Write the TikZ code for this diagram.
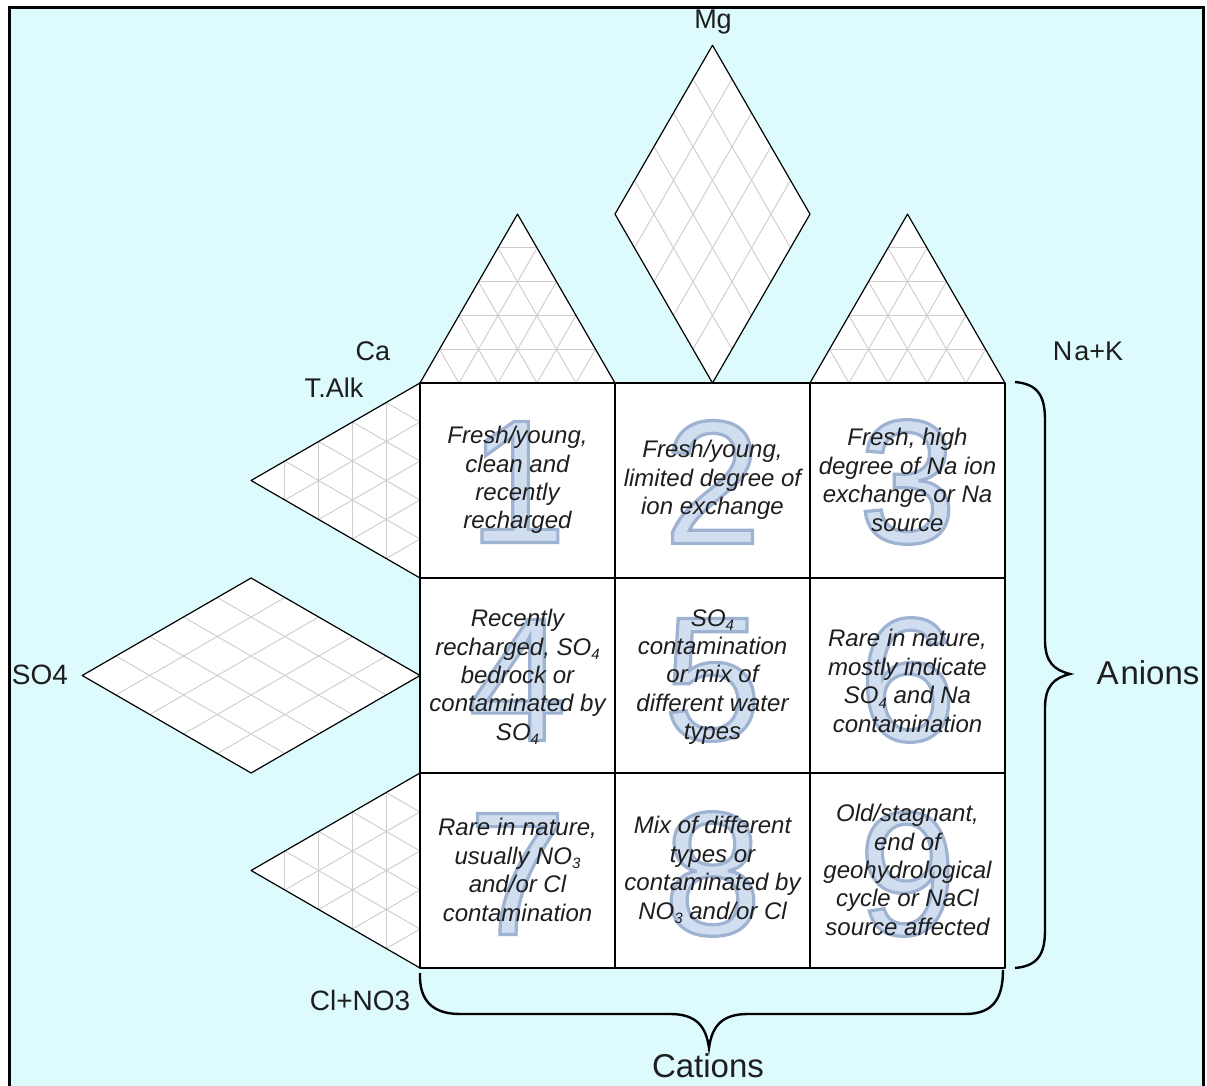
\documentclass[tikz,border=0pt]{standalone}
\usepackage{fontspec}
\setmainfont{Liberation Sans}
\usetikzlibrary{calc}
\definecolor{bgc}{RGB}{221,251,252}
\definecolor{gridc}{RGB}{205,205,205}
\definecolor{digc}{RGB}{208,222,240}
\definecolor{txtc}{RGB}{30,30,30}
\newcommand{\lowsub}[1]{\raisebox{-0.35ex}{\fontsize{7.5}{7.5}\selectfont #1}}
% outlined digit via PDF text render mode 2 (fill + stroke)
\newcommand{\outl}[1]{\special{pdf:literal direct 0.62 0.70 0.82 RG 1.6 w 2 Tr}#1\special{pdf:literal direct 0 Tr}}
\tikzset{
  celltext/.style={align=center, font=\fontsize{12}{14.2}\selectfont\itshape, text=txtc, inner sep=0pt},
  bigdigit/.style={font=\fontsize{88}{88}\selectfont, text=digc, inner sep=0pt},
  axislabel/.style={font=\fontsize{13.5}{15}\selectfont, text=txtc, inner sep=0pt},
  biglabel/.style={font=\fontsize{16.5}{18}\selectfont, text=txtc, inner sep=0pt},
  gridline/.style={draw=gridc, line width=0.45pt},
  outline/.style={draw=black, line width=0.6pt, line join=round},
  bracepath/.style={draw=black, line width=1.2pt},
}
\newcommand{\terntri}[3]{%
  \fill[white] (#1)--(#2)--(#3)--cycle;
  \foreach \i in {1,...,4}{%
    \draw[gridline] ($(#1)!\i/5!(#2)$) -- ($(#1)!\i/5!(#3)$);
    \draw[gridline] ($(#2)!\i/5!(#1)$) -- ($(#2)!\i/5!(#3)$);
    \draw[gridline] ($(#3)!\i/5!(#1)$) -- ($(#3)!\i/5!(#2)$);
  }
  \draw[outline] (#1)--(#2)--(#3)--cycle;
}
\newcommand{\rhombgrid}[4]{%
  \fill[white] (#1)--(#2)--(#3)--(#4)--cycle;
  \foreach \i in {1,...,4}{%
    \draw[gridline] ($(#1)!\i/5!(#2)$) -- ($(#4)!\i/5!(#3)$);
    \draw[gridline] ($(#1)!\i/5!(#4)$) -- ($(#2)!\i/5!(#3)$);
  }
  \draw[outline] (#1)--(#2)--(#3)--(#4)--cycle;
}
\begin{document}
\begin{tikzpicture}[x=0.5pt,y=-0.5pt]
\useasboundingbox (0,0) rectangle (1207,1086);
\clip (0,0) rectangle (1207,1086);
\fill[white] (0,0) rectangle (1207,1086);
\draw[line width=1.5pt, fill=bgc] (9,8) rectangle (1203,1110);

% coordinates
\coordinate (g00) at (420,383);
\coordinate (g10) at (615,383);
\coordinate (g20) at (810,383);
\coordinate (g30) at (1005,383);
\coordinate (g01) at (420,578);
\coordinate (g02) at (420,773);
\coordinate (g03) at (420,968);
\coordinate (g33) at (1005,968);

% top plots
\coordinate (caT) at (517.5,214.1);
\coordinate (naT) at (907.5,214.1);
\coordinate (mgL) at (615,214.1);
\coordinate (mgR) at (810,214.1);
\coordinate (mgT) at (712.5,45.3);
\coordinate (mgB) at (712.5,383);
\terntri{g00}{g10}{caT}
\terntri{g20}{g30}{naT}
\rhombgrid{mgB}{mgR}{mgT}{mgL}

% left plots
\coordinate (alkA) at (251.1,480.5);
\coordinate (clA) at (251.1,870.5);
\coordinate (soR) at (420,675.5);
\coordinate (soT) at (251.1,578);
\coordinate (soB) at (251.1,773);
\coordinate (soL) at (82.2,675.5);
\terntri{g00}{g01}{alkA}
\terntri{g02}{g03}{clA}
\rhombgrid{soR}{soT}{soL}{soB}

% central square
\fill[white] (g00) rectangle (g33);

% big digits
\node[bigdigit] (d1) at (517.5,482) {\outl{1}};
\node[bigdigit] (d2) at (712.5,482) {\outl{2}};
\node[bigdigit] (d3) at (907.5,482) {\outl{3}};
\node[bigdigit] (d4) at (517.5,680) {\outl{4}};
\node[bigdigit] (d5) at (712.5,680) {\outl{5}};
\node[bigdigit] (d6) at (907.5,680) {\outl{6}};
\node[bigdigit] (d7) at (517.5,874) {\outl{7}};
\node[bigdigit] (d8) at (712.5,874) {\outl{8}};
\node[bigdigit] (d9) at (907.5,874) {\outl{9}};

% grid lines
\draw[outline] (g00) rectangle (g33);
\draw[outline] (615,383) -- (615,968);
\draw[outline] (810,383) -- (810,968);
\draw[outline] (420,578) -- (1005,578);
\draw[outline] (420,773) -- (1005,773);

% cell texts
\node[celltext] (t1) at (517.5,480) {Fresh/young,\\clean and\\recently\\recharged};
\node[celltext] (t2) at (712.5,480) {Fresh/young,\\limited degree of\\ion exchange};
\node[celltext] (t3) at (907.5,480) {Fresh, high\\degree of Na ion\\exchange or Na\\source};
\node[celltext] (t4) at (517.5,677) {Recently\\recharged, SO\lowsub{4}\\bedrock or\\contaminated by\\SO\lowsub{4}};
\node[celltext] (t5) at (712.5,677) {SO\lowsub{4}\\contamination\\or mix of\\different water\\types};
\node[celltext] (t6) at (907.5,681) {Rare in nature,\\mostly indicate\\SO\lowsub{4} and Na\\contamination};
\node[celltext] (t7) at (517.5,870) {Rare in nature,\\usually NO\lowsub{3}\\and/or Cl\\contamination};
\node[celltext] (t8) at (712.5,870) {Mix of different\\types or\\contaminated by\\NO\lowsub{3} and/or Cl};
\node[celltext] (t9) at (907.5,870) {Old/stagnant,\\end of\\geohydrological\\cycle or NaCl\\source affected};

% axis labels
\node[axislabel] (lmg) at (713,22) {Mg};
\node[axislabel] (lca) at (373,351) {Ca};
\node[axislabel] (lalk) at (334,388) {T.Alk};
\node[axislabel] (lna) at (1088,351) {N\kern1pt a+K};
\node[axislabel, font=\fontsize{14}{15}\selectfont] (lso) at (40,675) {SO4};
\node[axislabel, font=\fontsize{14}{15}\selectfont] (lcl) at (360,1000) {Cl+NO3};
\node[biglabel] (lan) at (1148,673) {A\kern1pt nions};
\node[biglabel] (lcat) at (708,1066) {Cations};

% braces
\coordinate (rbT) at (1015,382);
\coordinate (rbB) at (1015,968);
\coordinate (rbTip) at (1070,674);
\draw[bracepath] (rbT) .. controls (1038,384) and (1045,396) .. (1045,420)
  -- (1045,640) .. controls (1045,662) and (1054,670) .. (rbTip)
  .. controls (1054,678) and (1045,686) .. (1045,708)
  -- (1045,930) .. controls (1045,954) and (1038,966) .. (rbB);
\coordinate (bbL) at (420,973);
\coordinate (bbR) at (1003,970);
\coordinate (bbTip) at (709,1048);
\draw[bracepath] (bbL) .. controls (419,1000) and (432,1014) .. (460,1014)
  -- (670,1014) .. controls (696,1014) and (706,1026) .. (bbTip)
  .. controls (712,1026) and (722,1014) .. (748,1014)
  -- (965,1014) .. controls (992,1014) and (1003,1000) .. (bbR);
\end{tikzpicture}
\end{document}
